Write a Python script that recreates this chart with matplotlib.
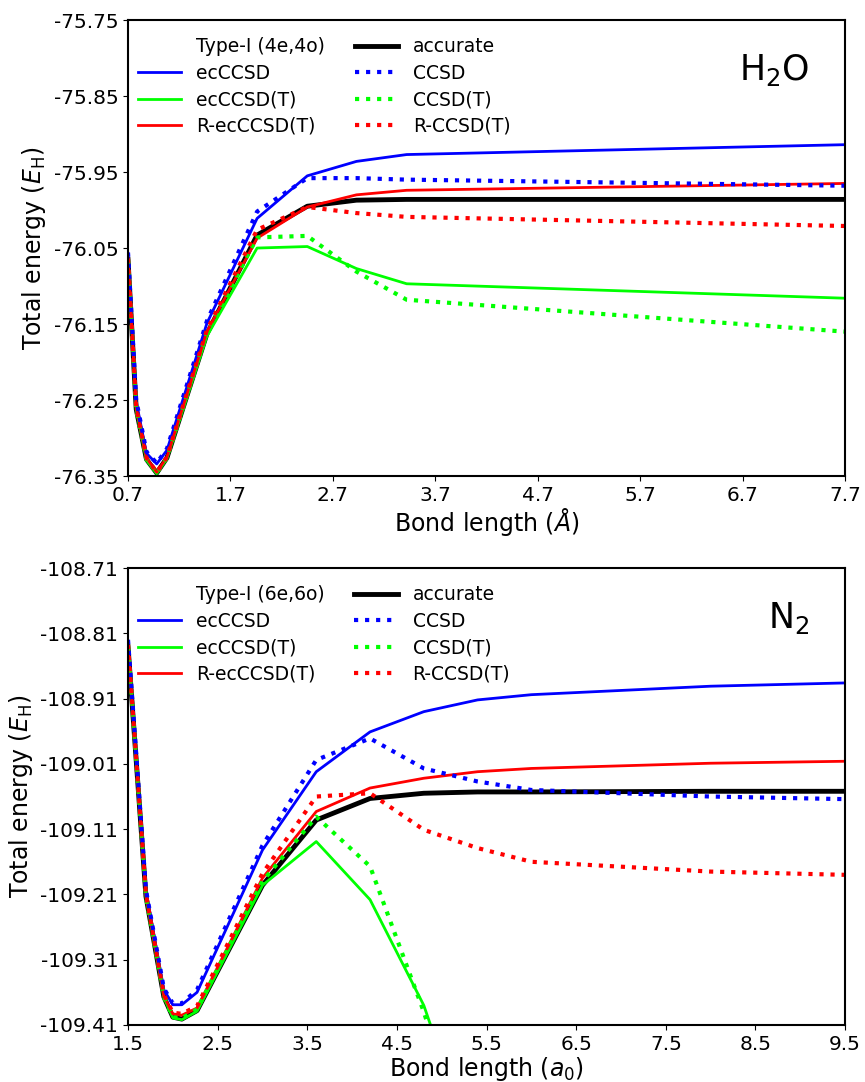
import numpy as np
import matplotlib
matplotlib.use("Agg")
import matplotlib.pyplot as plt
from matplotlib.lines import Line2D

# H2O, bond length in Angstrom
x_h2o = [0.70, 0.78, 0.88, 0.98, 1.08, 1.47, 1.96, 2.45, 2.93, 3.42, 7.70]
h2o_accurate  = [-76.065, -76.262, -76.328, -76.346, -76.326, -76.163, -76.033, -75.995, -75.987, -75.986, -75.986]
h2o_ecccsd    = [-76.057, -76.252, -76.320, -76.334, -76.316, -76.149, -76.011, -75.955, -75.936, -75.927, -75.914]
h2o_ecccsd_t  = [-76.066, -76.263, -76.329, -76.347, -76.327, -76.166, -76.050, -76.048, -76.077, -76.097, -76.116]
h2o_recccsd_t = [-76.064, -76.260, -76.326, -76.345, -76.325, -76.160, -76.037, -75.996, -75.980, -75.974, -75.965]
h2o_ccsd      = [-76.056, -76.250, -76.318, -76.333, -76.314, -76.146, -76.002, -75.958, -75.958, -75.960, -75.968]
h2o_ccsd_t    = [-76.065, -76.262, -76.328, -76.346, -76.326, -76.162, -76.036, -76.034, -76.081, -76.118, -76.160]
h2o_rccsd_t   = [-76.064, -76.260, -76.326, -76.345, -76.325, -76.158, -76.026, -75.996, -76.004, -76.009, -76.021]

# N2, bond length in bohr
x_n2 = [1.5, 1.7, 1.9, 2.0, 2.1, 2.27, 3.0, 3.6, 4.2, 4.8, 5.4, 6.0, 8.0, 9.5]
n2_accurate  = [-108.830, -109.213, -109.367, -109.398, -109.401, -109.388, -109.196, -109.096, -109.063, -109.055, -109.053, -109.053, -109.052, -109.052]
n2_ecccsd    = [-108.822, -109.205, -109.356, -109.379, -109.379, -109.360, -109.142, -109.022, -108.961, -108.930, -108.912, -108.904, -108.891, -108.886]
n2_ecccsd_t  = [-108.831, -109.214, -109.368, -109.399, -109.402, -109.389, -109.196, -109.129, -109.218, -109.380, -109.620, -109.800, -110.100, -110.200]
n2_recccsd_t = [-108.829, -109.212, -109.366, -109.393, -109.395, -109.384, -109.185, -109.083, -109.047, -109.032, -109.022, -109.017, -109.009, -109.006]
n2_ccsd      = [-108.820, -109.203, -109.354, -109.377, -109.377, -109.356, -109.135, -109.004, -108.971, -109.017, -109.037, -109.050, -109.060, -109.064]
n2_ccsd_t    = [-108.830, -109.213, -109.367, -109.398, -109.400, -109.386, -109.190, -109.091, -109.167, -109.390, -109.650, -109.850, -110.150, -110.250]
n2_rccsd_t   = [-108.828, -109.210, -109.364, -109.391, -109.393, -109.381, -109.178, -109.060, -109.055, -109.111, -109.139, -109.160, -109.175, -109.180]

h2o_yticks = [-75.75, -75.85, -75.95, -76.05, -76.15, -76.25, -76.35]
n2_yticks = [-108.71, -108.81, -108.91, -109.01, -109.11, -109.21, -109.31, -109.41]
h2o_xticks = [0.7, 1.7, 2.7, 3.7, 4.7, 5.7, 6.7, 7.7]
n2_xticks = [1.5, 2.5, 3.5, 4.5, 5.5, 6.5, 7.5, 8.5, 9.5]

labels = ["accurate", "ecCCSD", "ecCCSD(T)", "R-ecCCSD(T)", "CCSD", "CCSD(T)", "R-CCSD(T)"]
colors = ["black", "#0000ff", "#00ff00", "#ff0000", "#0000ff", "#00ff00", "#ff0000"]

fig = plt.figure(figsize=(8.65, 10.82), dpi=100)
ax1 = fig.add_axes([0.148, 0.560, 0.829, 0.4215])
ax2 = fig.add_axes([0.148, 0.0527, 0.829, 0.4223])


def draw(ax, x, series, typelabel, mol, xlim, xticks, yticks, xlabel):
    lines = []
    for i, (y, lab, c) in enumerate(zip(series, labels, colors)):
        if i == 0:
            l, = ax.plot(x, y, color=c, lw=3.5, label=lab)
        elif i <= 3:
            l, = ax.plot(x, y, color=c, lw=2, label=lab)
        else:
            l, = ax.plot(x, y, color=c, lw=3, ls=":", label=lab)
        lines.append(l)
    empty = Line2D([], [], color="none")
    handles = [empty, lines[1], lines[2], lines[3], lines[0], lines[4], lines[5], lines[6]]
    names = [typelabel, labels[1], labels[2], labels[3], labels[0], labels[4], labels[5], labels[6]]
    ax.legend(handles, names, ncol=2, frameon=False, loc="upper left",
              bbox_to_anchor=(-0.01, 0.999),
              fontsize=13.5, handlelength=2.3, labelspacing=0.4, columnspacing=1.6,
              handletextpad=0.8)
    ax.text(0.95, 0.89, mol, transform=ax.transAxes, fontsize=25, ha="right", va="center")
    ax.set_xlim(xlim)
    ax.set_ylim(yticks[-1], yticks[0])
    ax.set_xticks(xticks)
    ax.set_xticklabels(["%.1f" % t for t in xticks])
    ax.set_yticks(yticks)
    ax.set_yticklabels(["%.2f" % t for t in yticks])
    ax.tick_params(labelsize=14.5)
    ax.set_xlabel(xlabel, fontsize=17, labelpad=1)
    ax.set_ylabel(r"Total energy ($E_\mathrm{H}$)", fontsize=17)
    for s in ax.spines.values():
        s.set_linewidth(1.5)


draw(ax1, x_h2o,
     [h2o_accurate, h2o_ecccsd, h2o_ecccsd_t, h2o_recccsd_t, h2o_ccsd, h2o_ccsd_t, h2o_rccsd_t],
     "Type-I (4e,4o)", r"H$_2$O", (0.7, 7.7), h2o_xticks, h2o_yticks, r"Bond length ($Å$)")
draw(ax2, x_n2,
     [n2_accurate, n2_ecccsd, n2_ecccsd_t, n2_recccsd_t, n2_ccsd, n2_ccsd_t, n2_rccsd_t],
     "Type-I (6e,6o)", r"N$_2$", (1.5, 9.5), n2_xticks, n2_yticks, r"Bond length ($a_0$)")

fig.savefig("out.png", dpi=100)
